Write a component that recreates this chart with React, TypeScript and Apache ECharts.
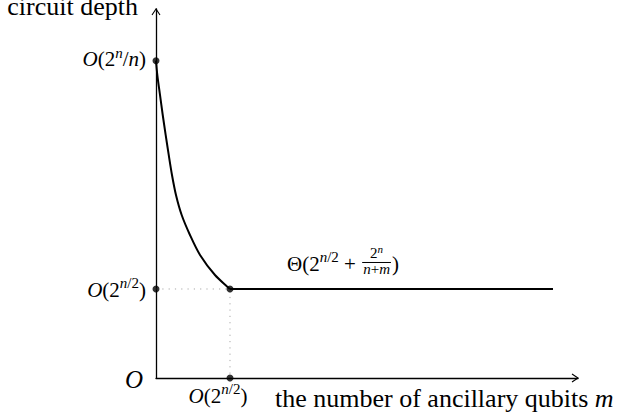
import React, { useEffect, useRef } from "react";
import * as echarts from "echarts";

// Depth curve (descending part), in units where the knee sits at (1, 1)
const curveX = [0, 0.018, 0.054, 0.091, 0.131, 0.172, 0.216, 0.27, 0.347, 0.459, 0.595, 0.797, 1];
const curveY = [3.565, 3.404, 3.18, 2.955, 2.73, 2.506, 2.281, 2.056, 1.831, 1.607, 1.382, 1.157, 1];
// Flat part after the knee
const plateauX = [1, 5.365];
const plateauY = [1, 1];
// Marked points: top of the curve, knee, and its projections on the axes
const markedPoints: [number, number][] = [
  [0, 3.565],
  [1, 1],
  [0, 1],
  [1, 0],
];
const X_MAX = 5.703;
const Y_MAX = 4.146;

const SERIF = '"Liberation Serif", "Times New Roman", Times, serif';

type Piece = { t: string; s: number; i?: boolean; r?: number };

const measureCtx =
  typeof document !== "undefined"
    ? document.createElement("canvas").getContext("2d")
    : null;

function fontOf(size: number, italic?: boolean) {
  return `${italic ? "italic " : ""}${size}px ${SERIF}`;
}

function measure(text: string, size: number, italic?: boolean) {
  if (!measureCtx) return text.length * size * 0.5;
  measureCtx.font = fontOf(size, italic);
  return measureCtx.measureText(text).width;
}

function piecesWidth(pieces: Piece[]) {
  return pieces.reduce((w, p) => w + measure(p.t, p.s, p.i), 0);
}

// Lays out a run of text pieces on a shared baseline
function layout(
  pieces: Piece[],
  x: number,
  baseline: number,
  align: "left" | "right" | "center"
) {
  const total = piecesWidth(pieces);
  let cx = align === "left" ? x : align === "right" ? x - total : x - total / 2;
  const els: any[] = [];
  for (const p of pieces) {
    const w = measure(p.t, p.s, p.i);
    const base = baseline - (p.r || 0);
    els.push({
      type: "text",
      silent: true,
      style: {
        text: p.t,
        x: cx,
        y: base - 0.3375 * p.s,
        font: fontOf(p.s, p.i),
        fill: "#000",
        align: "left",
        verticalAlign: "middle",
      },
    });
    cx += w;
  }
  return { els, width: total, end: cx };
}

const M = 21; // math size
const S = 15; // script size
const SS = 11; // second-level script size

export default function App() {
  const ref = useRef<HTMLDivElement>(null);

  useEffect(() => {
    if (!ref.current) return;
    const chart = echarts.init(ref.current, null, { renderer: "svg" });

    const axisCommon = {
      type: "value" as const,
      axisTick: { show: false },
      axisLabel: { show: false },
      splitLine: { show: false },
      axisLine: { show: true, lineStyle: { color: "#000", width: 1.3 } },
    };

    chart.setOption({
      animation: false,
      grid: { left: 156, right: 40, top: 9, bottom: 42 },
      xAxis: { ...axisCommon, min: 0, max: X_MAX },
      yAxis: { ...axisCommon, min: 0, max: Y_MAX },
      series: [
        {
          type: "line",
          data: [
            [0, 1],
            [1, 1],
            [1, 0],
          ],
          showSymbol: false,
          lineStyle: { color: "#a8a8a8", width: 1, type: [1.2, 5.1] },
          z: 1,
        },
        {
          type: "line",
          data: curveX.map((x, k) => [x, curveY[k]]),
          smooth: 0.3,
          showSymbol: false,
          lineStyle: { color: "#000", width: 2 },
          z: 3,
        },
        {
          type: "line",
          data: plateauX.map((x, k) => [x, plateauY[k]]),
          showSymbol: false,
          lineStyle: { color: "#000", width: 2 },
          z: 3,
        },
        {
          type: "scatter",
          data: markedPoints,
          symbolSize: 7,
          itemStyle: { color: "#000" },
          z: 5,
        },
      ],
    });

    const px = (p: [number, number]) =>
      chart.convertToPixel({ gridIndex: 0 }, p) as number[];
    const origin = px([0, 0]);
    const xTip = px([X_MAX, 0]);
    const yTip = px([0, Y_MAX]);
    const top = px(markedPoints[0]);
    const knee = px(markedPoints[1]);

    const els: any[] = [];
    const arrowStyle = { stroke: "#000", lineWidth: 1.1, fill: "none" };
    els.push({
      type: "polyline",
      silent: true,
      shape: {
        points: [
          [xTip[0] - 6, xTip[1] - 4],
          [xTip[0], xTip[1]],
          [xTip[0] - 6, xTip[1] + 4],
        ],
      },
      style: arrowStyle,
    });
    els.push({
      type: "polyline",
      silent: true,
      shape: {
        points: [
          [yTip[0] - 4, yTip[1] + 6],
          [yTip[0], yTip[1]],
          [yTip[0] + 4, yTip[1] + 6],
        ],
      },
      style: arrowStyle,
    });

    // Axis titles
    els.push(
      ...layout([{ t: "circuit depth", s: 26 }], yTip[0] - 18, yTip[1] + 6, "right").els
    );
    els.push(
      ...layout(
        [
          { t: "the number of ancillary qubits ", s: 26 },
          { t: "m", s: 26, i: true },
        ],
        275,
        origin[1] + 29,
        "left"
      ).els
    );

    // Origin
    els.push(...layout([{ t: "O", s: 25, i: true }], origin[0] - 13, origin[1] + 10, "right").els);

    // O(2^n / n)
    els.push(
      ...layout(
        [
          { t: "O", s: M, i: true },
          { t: "(2", s: M },
          { t: "n", s: S, i: true, r: 8 },
          { t: "/", s: M },
          { t: "n", s: M, i: true },
          { t: ")", s: M },
        ],
        origin[0] - 10,
        top[1] + 5.5,
        "right"
      ).els
    );

    const halfPow: Piece[] = [
      { t: "O", s: M, i: true },
      { t: "(2", s: M },
      { t: "n", s: S, i: true, r: 8.5 },
      { t: "/2", s: S, r: 8.5 },
      { t: ")", s: M },
    ];
    els.push(...layout(halfPow, origin[0] - 10, knee[1] + 8, "right").els);
    els.push(...layout(halfPow, knee[0] - 12, origin[1] + 25, "center").els);

    // Theta(2^{n/2} + 2^n/(n+m))
    const thetaBase = knee[1] - 18;
    const head = layout(
      [
        { t: "Θ", s: M },
        { t: "(2", s: M },
        { t: "n", s: S, i: true, r: 8.5 },
        { t: "/2", s: S, r: 8.5 },
        { t: " + ", s: M },
      ],
      287,
      thetaBase,
      "left"
    );
    els.push(...head.els);
    const num: Piece[] = [
      { t: "2", s: S },
      { t: "n", s: SS, i: true, r: 6 },
    ];
    const den: Piece[] = [
      { t: "n", s: S, i: true },
      { t: "+", s: S },
      { t: "m", s: S, i: true },
    ];
    const fracW = Math.max(piecesWidth(num), piecesWidth(den)) + 2;
    const fracX = head.end + 1;
    const barY = thetaBase - 8.5;
    els.push(...layout(num, fracX + fracW / 2, barY - 4, "center").els);
    els.push(...layout(den, fracX + fracW / 2, barY + 12, "center").els);
    els.push({
      type: "line",
      silent: true,
      shape: { x1: fracX, y1: barY, x2: fracX + fracW, y2: barY },
      style: { stroke: "#000", lineWidth: 1 },
    });
    els.push(...layout([{ t: ")", s: M }], fracX + fracW + 1, thetaBase, "left").els);

    chart.setOption({ graphic: { elements: els } });

    return () => chart.dispose();
  }, []);

  return <div ref={ref} style={{ width: 618, height: 420, position: "absolute", left: 0, top: 0 }} />;
}
